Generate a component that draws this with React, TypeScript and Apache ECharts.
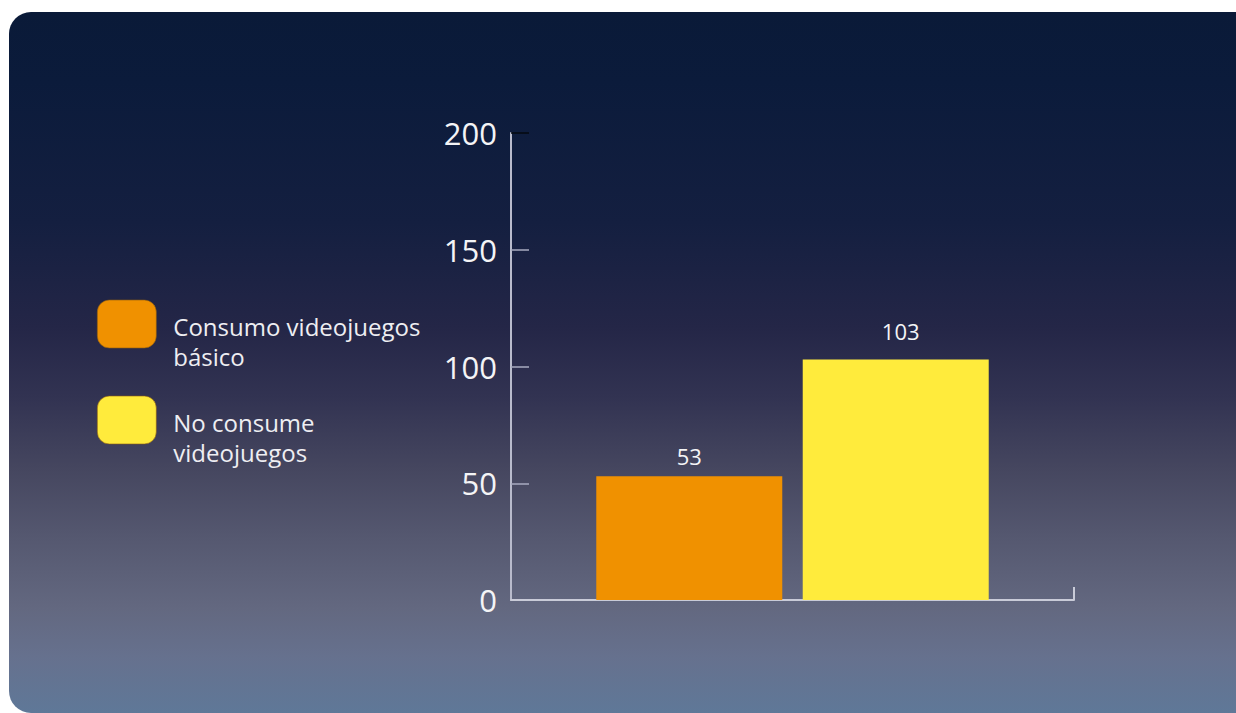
import React, { useEffect, useRef } from "react";
import * as echarts from "echarts";

const categories = ["Consumo"];
const seriesNames = ["Consumo videojuegos\nbásico", "No consume\nvideojuegos"];
const seriesValues = [[53], [103]];
const seriesColors = ["#f09100", "#ffeb3c"];
const yTicks = [50, 100, 150];

const labelDistance = [9, 17];
const labelOffsetX = [0, 5];
const legendTops = [300, 396];

export default function App() {
  const ref = useRef<HTMLDivElement>(null);
  useEffect(() => {
    if (!ref.current) return;
    const chart = echarts.init(ref.current, undefined, { renderer: "svg" });
    const font = "'Open Sans', 'Noto Sans', sans-serif";
    const legendFormatter = (name: string) =>
      "{gap|}\n" + name.split("\n").map((l) => `{t|${l}}`).join("\n");
    chart.setOption({
      animation: false,
      backgroundColor: "transparent",
      textStyle: { fontFamily: font },
      grid: { left: 511, right: 162, top: 133, bottom: 113, containLabel: false },
      legend: seriesNames.map((n, i) => ({
        orient: "vertical",
        left: 97,
        top: legendTops[i] - 23,
        padding: 0,
        itemWidth: 59,
        itemHeight: 48,
        icon: "roundRect",
        selectedMode: false,
        data: [
          {
            name: n,
            itemStyle: { color: seriesColors[i], borderColor: "#8a5a10", borderWidth: 0.6 },
          },
        ],
        formatter: legendFormatter,
        textStyle: {
          color: "#eeeef2",
          fontSize: 24,
          fontFamily: font,
          rich: {
            gap: { height: 34, lineHeight: 34, fontSize: 2 },
            t: {
              color: "#eeeef2",
              fontSize: 24,
              lineHeight: 30,
              fontFamily: font,
              padding: [0, 0, 0, 12],
            },
          },
        },
      })),
      xAxis: [
        {
          type: "category",
          data: categories,
          axisLine: { show: true, lineStyle: { color: "#c9cbd8", width: 2 } },
          axisTick: { show: false },
          axisLabel: { show: false },
        },
        {
          type: "value",
          min: 0,
          max: 1,
          position: "bottom",
          axisLine: { show: false },
          splitLine: { show: false },
          axisLabel: { show: false },
          axisTick: {
            show: true,
            inside: true,
            length: 13,
            customValues: [1],
            lineStyle: { color: "#c9cbd8", width: 2 },
          },
        },
      ],
      yAxis: [
        {
          type: "value",
          min: 0,
          max: 200,
          interval: 50,
          axisLine: { show: true, lineStyle: { color: "#b9bbcc", width: 2 } },
          splitLine: { show: false },
          axisTick: {
            show: true,
            inside: true,
            length: 18,
            customValues: yTicks,
            lineStyle: { color: "#a9abc0", width: 1.5 },
          },
          axisLabel: {
            color: "#f4f4f6",
            fontSize: 31,
            margin: 14,
            fontFamily: font,
          },
        },
        {
          type: "value",
          min: 0,
          max: 200,
          position: "left",
          axisLine: { show: false },
          splitLine: { show: false },
          axisLabel: { show: false },
          axisTick: {
            show: true,
            inside: true,
            length: 18,
            customValues: [200],
            lineStyle: { color: "#05080f", width: 1.5 },
          },
        },
      ],
      series: seriesNames.map((n, i) => ({
        type: "bar",
        name: n,
        data: seriesValues[i],
        barWidth: 186,
        barGap: "11%",
        itemStyle: { color: seriesColors[i] },
        label: {
          show: true,
          position: "top",
          distance: labelDistance[i],
          offset: [labelOffsetX[i], 0],
          color: "#f4f4f6",
          fontSize: 22,
          fontFamily: font,
        },
      })),
    });
    return () => chart.dispose();
  }, []);

  return (
    <div style={{ position: "fixed", left: 0, top: 0, width: 1236, height: 713, background: "#ffffff" }}>
      <div
        style={{
          position: "absolute",
          left: 9,
          top: 12,
          width: 1227,
          height: 701,
          borderRadius: "22px 0 0 22px",
          background:
            "linear-gradient(to bottom, #0a1a38 0%, #0b1b3b 10%, #141f40 30%, #242647 45%, #323352 55%, #45465f 65%, #555870 75%, #636880 85%, #66718e 92%, #5f7898 100%)",
        }}
      />
      <div ref={ref} style={{ position: "absolute", left: 0, top: 0, width: 1236, height: 713 }} />
    </div>
  );
}
